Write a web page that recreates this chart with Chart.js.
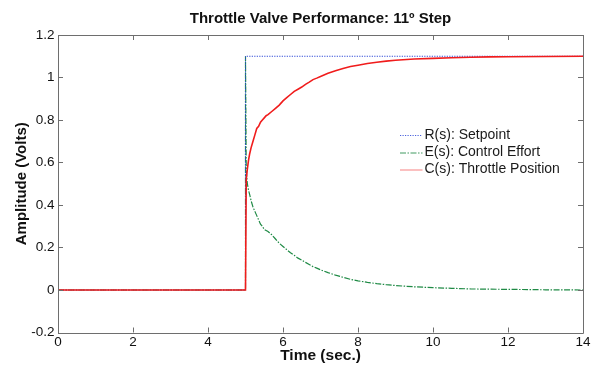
<!DOCTYPE html>
<html>
<head>
<meta charset="utf-8">
<script src="https://cdn.jsdelivr.net/npm/chart.js@4/dist/chart.umd.min.js"></script>
<style>
html,body{margin:0;padding:0;background:#fff;}
#wrap{width:596px;height:365px;position:relative;}
</style>
</head>
<body>
<div id="wrap"><canvas id="c" width="596" height="365"></canvas></div>
<script>
// ---- Data ----
const titleText = 'Throttle Valve Performance: 11\u00BA Step';
const xTitle = 'Time (sec.)';
const yTitle = 'Amplitude (Volts)';
const seriesLabels = ['R(s): Setpoint', 'E(s): Control Effort', 'C(s): Throttle Position'];

const xTicks = [0, 2, 4, 6, 8, 10, 12, 14];
const yTicks = [-0.2, 0, 0.2, 0.4, 0.6, 0.8, 1, 1.2];
const yTickLabels = ['-0.2', '0', '0.2', '0.4', '0.6', '0.8', '1', '1.2'];

// R(s): setpoint step
const rTime  = [0, 5, 5, 14];
const rValue = [0, 0, 1.1, 1.1];

// E(s): control effort
const eTime  = [0, 5, 5, 5.02, 5.05, 5.08, 5.11, 5.15, 5.2, 5.25, 5.3, 5.35, 5.4, 5.45, 5.5, 5.55, 5.6, 5.7, 5.8, 5.9, 6.0, 6.1, 6.2, 6.3, 6.4, 6.5, 6.6, 6.7, 6.8, 6.9, 7.0, 7.2, 7.4, 7.6, 7.8, 8.0, 8.25, 8.5, 8.75, 9.0, 9.5, 10.0, 10.5, 11.0, 11.5, 12.0, 13.0, 14.0];
const eValue = [0, 0, 1.1, 0.56, 0.5, 0.47, 0.45, 0.42, 0.39, 0.37, 0.35, 0.33, 0.31, 0.3, 0.285, 0.28, 0.275, 0.26, 0.24, 0.22, 0.205, 0.19, 0.175, 0.163, 0.15, 0.14, 0.13, 0.12, 0.11, 0.103, 0.095, 0.082, 0.07, 0.06, 0.05, 0.043, 0.036, 0.03, 0.025, 0.021, 0.015, 0.011, 0.008, 0.005, 0.004, 0.003, 0.001, 0.0];

// C(s): throttle position
const cTime  = [0, 5, 5.02, 5.05, 5.08, 5.11, 5.15, 5.2, 5.25, 5.3, 5.35, 5.4, 5.45, 5.5, 5.55, 5.6, 5.7, 5.8, 5.9, 6.0, 6.1, 6.2, 6.3, 6.4, 6.5, 6.6, 6.7, 6.8, 6.9, 7.0, 7.2, 7.4, 7.6, 7.8, 8.0, 8.25, 8.5, 8.75, 9.0, 9.5, 10.0, 10.5, 11.0, 11.5, 12.0, 13.0, 14.0];
const cValue = [0, 0, 0.52, 0.57, 0.61, 0.64, 0.67, 0.7, 0.73, 0.76, 0.77, 0.79, 0.8, 0.81, 0.82, 0.825, 0.84, 0.855, 0.87, 0.89, 0.905, 0.92, 0.935, 0.945, 0.955, 0.968, 0.978, 0.99, 0.997, 1.005, 1.02, 1.032, 1.042, 1.052, 1.058, 1.066, 1.072, 1.077, 1.081, 1.087, 1.09, 1.093, 1.095, 1.097, 1.098, 1.099, 1.1];

const toPts = (xs, ys) => xs.map((x, i) => ({x: x, y: ys[i]}));

const FONT = "'Liberation Sans', Arial, sans-serif";
const frameColor = '#6e6e6e';

const styles = [
  {color: '#2a45d6', dash: [1.2, 1.3], width: 1},
  {color: '#1f8a45', dash: [6, 1.5, 1.5, 1.5], width: 1.2},
  {color: '#f01c1c', dash: [], width: 1.6}
];

const framePlugin = {
  id: 'frame',
  afterDatasetsDraw(chart) {
    const ctx = chart.ctx, a = chart.chartArea;
    const xs = chart.scales.x, ys = chart.scales.y;
    ctx.save();
    ctx.strokeStyle = frameColor;
    ctx.lineWidth = 1;
    ctx.beginPath();
    ctx.rect(Math.round(a.left) + 0.5, Math.round(a.top) + 0.5, Math.round(a.right - a.left), Math.round(a.bottom - a.top));
    ctx.stroke();
    ctx.beginPath();
    const L = 5;
    xTicks.forEach(v => {
      const px = Math.round(xs.getPixelForValue(v)) + 0.5;
      ctx.moveTo(px, a.bottom); ctx.lineTo(px, a.bottom - L);
      ctx.moveTo(px, a.top); ctx.lineTo(px, a.top + L);
    });
    yTicks.forEach(v => {
      const py = Math.round(ys.getPixelForValue(v)) + 0.5;
      ctx.moveTo(a.left, py); ctx.lineTo(a.left + L, py);
      ctx.moveTo(a.right, py); ctx.lineTo(a.right - L, py);
    });
    ctx.stroke();

    // legend
    ctx.font = '14px ' + FONT;
    ctx.textBaseline = 'middle';
    ctx.textAlign = 'left';
    const lx0 = 400, lx1 = 422.5, tx = 424.5;
    const ly = [135, 152.5, 169.5];
    seriesLabels.forEach((lab, i) => {
      const s = styles[i];
      ctx.strokeStyle = s.color;
      ctx.globalAlpha = i === 2 ? 0.55 : 0.85;
      ctx.lineWidth = 1;
      ctx.setLineDash(s.dash);
      ctx.beginPath();
      ctx.moveTo(lx0, ly[i] + 0.5); ctx.lineTo(lx1, ly[i] + 0.5);
      ctx.stroke();
      ctx.setLineDash([]);
      ctx.globalAlpha = 1;
      ctx.fillStyle = '#1a1a1a';
      ctx.fillText(lab, tx, ly[i]);
    });
    ctx.restore();
  }
};

new Chart(document.getElementById('c'), {
  type: 'line',
  data: {
    datasets: [
      {label: seriesLabels[0], data: toPts(rTime, rValue), borderColor: styles[0].color, borderDash: styles[0].dash, borderWidth: styles[0].width, pointRadius: 0, tension: 0, fill: false, order: 1},
      {label: seriesLabels[1], data: toPts(eTime, eValue), borderColor: styles[1].color, borderDash: styles[1].dash, borderWidth: styles[1].width, pointRadius: 0, tension: 0, fill: false, order: 2},
      {label: seriesLabels[2], data: toPts(cTime, cValue), borderColor: styles[2].color, borderDash: styles[2].dash, borderWidth: styles[2].width, pointRadius: 0, tension: 0, fill: false, order: 0}
    ]
  },
  options: {
    responsive: false,
    animation: false,
    events: [],
    layout: {padding: {top: 0, right: 13, bottom: 0, left: 0}},
    plugins: {
      legend: {display: false},
      tooltip: {enabled: false},
      title: {
        display: true,
        fullSize: false,
        text: titleText,
        color: '#111',
        font: {family: FONT, size: 15, weight: 'bold'},
        padding: {top: 10, bottom: 7}
      }
    },
    scales: {
      x: {
        type: 'linear',
        min: 0, max: 14,
        afterBuildTicks: s => { s.ticks = xTicks.map(v => ({value: v})); },
        afterFit: s => { s.height = 32.5; },
        grid: {display: false, drawTicks: false},
        border: {display: false},
        ticks: {color: '#111', padding: 1.2, maxRotation: 0, autoSkip: false, font: {family: FONT, size: 13.5}, callback: v => String(v)},
        title: {display: true, text: xTitle, color: '#111', font: {family: FONT, size: 15.5, weight: 'bold'}, padding: {top: 0, bottom: 0.3}}
      },
      y: {
        type: 'linear',
        min: -0.2, max: 1.2,
        afterBuildTicks: s => { s.ticks = yTicks.map(v => ({value: v})); },
        afterFit: s => { s.width = 58; },
        grid: {display: false, drawTicks: false},
        border: {display: false},
        ticks: {color: '#111', padding: 3.5, autoSkip: false, font: {family: FONT, size: 13.5}, callback: (v, i) => yTickLabels[i]},
        title: {display: true, text: yTitle, color: '#111', font: {family: FONT, size: 15, weight: 'bold'}, padding: {top: 12.7, bottom: 0}}
      }
    }
  },
  plugins: [framePlugin]
});
</script>
</body>
</html>
